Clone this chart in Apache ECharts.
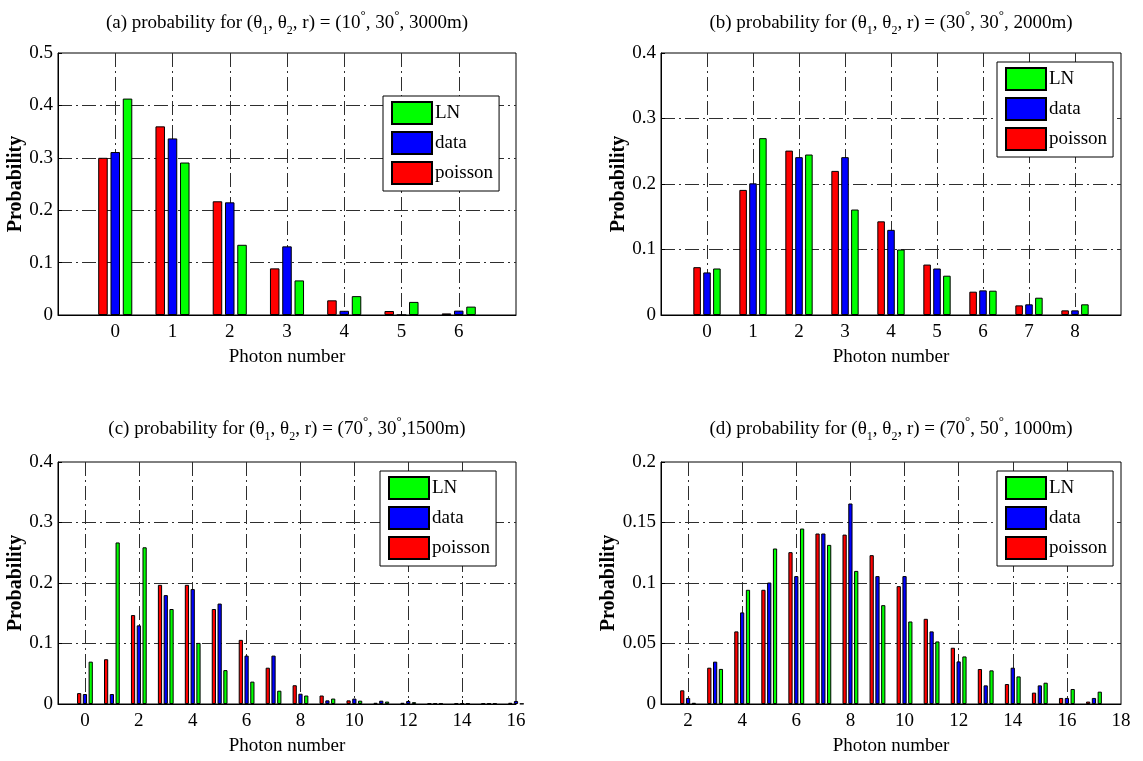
<!DOCTYPE html>
<html>
<head>
<meta charset="utf-8">
<script src="https://cdn.jsdelivr.net/npm/echarts@6/dist/echarts.min.js"></script>
<style>html,body{margin:0;padding:0;background:#fff}#chart{width:1143px;height:761px}</style>
</head>
<body>
<div id="chart"></div>
<script>
// ---------- DATA ----------
const seriesNames = ['poisson', 'data', 'LN'];
const legendOrder = ['LN', 'data', 'poisson'];

// (a) (θ1, θ2, r) = (10°, 30°, 3000m)
const aPhotons = [0, 1, 2, 3, 4, 5, 6];
const aPoisson = [0.300, 0.360, 0.217, 0.089, 0.028, 0.0076, 0.003];
const aData    = [0.311, 0.337, 0.215, 0.131, 0.008, 0, 0.0083];
const aLN      = [0.413, 0.291, 0.134, 0.066, 0.036, 0.025, 0.016];
const aXTicks  = [0, 1, 2, 3, 4, 5, 6];

// (b) (30°, 30°, 2000m)
const bPhotons = [0, 1, 2, 3, 4, 5, 6, 7, 8];
const bPoisson = [0.073, 0.191, 0.251, 0.220, 0.143, 0.077, 0.0356, 0.0147, 0.0071];
const bData    = [0.065, 0.201, 0.241, 0.241, 0.130, 0.071, 0.0376, 0.0163, 0.0071];
const bLN      = [0.071, 0.270, 0.245, 0.161, 0.100, 0.060, 0.0371, 0.0264, 0.0163];
const bXTicks  = [0, 1, 2, 3, 4, 5, 6, 7, 8];

// (c) (70°, 30°, 1500m)
const cPhotons = [0, 1, 2, 3, 4, 5, 6, 7, 8, 9, 10, 11, 12, 13, 14, 15, 16];
const cPoisson = [0.018, 0.074, 0.147, 0.197, 0.197, 0.157, 0.106, 0.060, 0.031, 0.014, 0.006, 0.002, 0.002, 0.001, 0.001, 0.001, 0.002];
const cData    = [0.0165, 0.0165, 0.130, 0.180, 0.190, 0.166, 0.080, 0.080, 0.017, 0.006, 0.009, 0.0055, 0.005, 0.001, 0.001, 0.001, 0.005];
const cLN      = [0.070, 0.267, 0.259, 0.157, 0.101, 0.056, 0.037, 0.022, 0.014, 0.009, 0.0055, 0.004, 0.003, 0.001, 0.001, 0.001, 0.0005];
const cXTicks  = [0, 2, 4, 6, 8, 10, 12, 14, 16];

// (d) (70°, 50°, 1000m)
const dPhotons = [2, 3, 4, 5, 6, 7, 8, 9, 10, 11, 12, 13, 14, 15, 16, 17];
const dPoisson = [0.0113, 0.030, 0.060, 0.0944, 0.1255, 0.1409, 0.140, 0.123, 0.0974, 0.0704, 0.0465, 0.0289, 0.0165, 0.0094, 0.005, 0.002];
const dData    = [0.005, 0.035, 0.0757, 0.1004, 0.1057, 0.1409, 0.1657, 0.1057, 0.1057, 0.060, 0.0352, 0.0154, 0.030, 0.0154, 0.005, 0.005];
const dLN      = [0.001, 0.029, 0.0944, 0.1285, 0.145, 0.1315, 0.110, 0.0817, 0.0682, 0.0517, 0.0393, 0.0278, 0.0228, 0.0176, 0.0124, 0.0102];
const dXTicks  = [2, 4, 6, 8, 10, 12, 14, 16, 18];

// ---------- LAYOUT / STYLE ----------
const FONT = '"Liberation Serif", "Times New Roman", serif';
const COLORS = {poisson: '#ff0000', data: '#0000ff', LN: '#00ff00'};

const panels = [
  {tag:'a', photons:aPhotons, vals:{poisson:aPoisson, data:aData, LN:aLN}, xTicks:aXTicks, xMin:-1, xMax:7, yMax:0.5, yStep:0.1,
   t:['10','30','3000m', ', '], grid:{left:58, top:53, width:458, height:262}, legend:{left:383, top:96}, titlePos:[287, 22]},
  {tag:'b', photons:bPhotons, vals:{poisson:bPoisson, data:bData, LN:bLN}, xTicks:bXTicks, xMin:-1, xMax:9, yMax:0.4, yStep:0.1,
   t:['30','30','2000m', ', '], grid:{left:661, top:53, width:460, height:262}, legend:{left:997, top:62}, titlePos:[891, 22]},
  {tag:'c', photons:cPhotons, vals:{poisson:cPoisson, data:cData, LN:cLN}, xTicks:cXTicks, xMin:-1, xMax:16, yMax:0.4, yStep:0.1,
   t:['70','30','1500m', ','], grid:{left:58, top:462, width:458, height:242}, legend:{left:380, top:471}, titlePos:[287, 428]},
  {tag:'d', photons:dPhotons, vals:{poisson:dPoisson, data:dData, LN:dLN}, xTicks:dXTicks, xMin:1, xMax:18, yMax:0.2, yStep:0.05,
   t:['70','50','1000m', ', '], grid:{left:661, top:462, width:460, height:242}, legend:{left:997, top:471}, titlePos:[891, 428]}
];

const gridLine = {color: '#2e2e2e', width: 1, type: [14, 4, 2, 4]};

const option = {
  animation: false,
  backgroundColor: '#fff',
  grid: [], xAxis: [], yAxis: [], series: [], legend: [], graphic: []
};

panels.forEach((p, i) => {
  const cats = [];
  for (let v = p.xMin; v <= p.xMax; v++) cats.push(String(v));
  const isTick = v => p.xTicks.indexOf(Number(v)) >= 0;
  const isInnerTick = v => isTick(v) && Number(v) !== p.xMin && Number(v) !== p.xMax;
  const unit = p.grid.width / (p.xMax - p.xMin);
  const bw = 0.175 * unit - 0.5;
  const gapPct = Math.round((0.215 * unit / bw - 1) * 100) + '%';

  option.grid.push(Object.assign({show: true, borderColor: '#000', borderWidth: 1, backgroundColor: '#fff',
    containLabel: false, outerBoundsMode: 'none'}, p.grid));

  option.xAxis.push({
    type: 'category', gridIndex: i, data: cats, boundaryGap: false,
    name: 'Photon number', nameLocation: 'middle', nameGap: 33,
    nameTextStyle: {fontFamily: FONT, fontSize: 19, color: '#000'},
    axisLine: {show: true, lineStyle: {color: '#000', width: 1}},
    axisTick: {show: true, inside: true, length: 4, interval: (idx, v) => isInnerTick(v), lineStyle: {color: '#000'}},
    axisLabel: {show: true, interval: (idx, v) => isTick(v), fontFamily: FONT, fontSize: 19, color: '#000', margin: 8},
    splitLine: {show: true, interval: (idx, v) => isInnerTick(v), lineStyle: gridLine}
  });

  option.yAxis.push({
    type: 'value', gridIndex: i, min: 0, max: p.yMax, interval: p.yStep,
    name: 'Probability', nameLocation: 'middle', nameGap: 30, nameRotate: 90,
    nameTextStyle: {fontFamily: FONT, fontSize: 20, fontWeight: 'bold', color: '#000'},
    axisLine: {show: true, lineStyle: {color: '#000', width: 1}},
    axisTick: {show: true, inside: true, length: 4, lineStyle: {color: '#000'}},
    axisLabel: {fontFamily: FONT, fontSize: 19, color: '#000', margin: 5},
    splitLine: {show: true, showMinLine: false, showMaxLine: false, lineStyle: gridLine}
  });

  seriesNames.forEach(name => {
    const vals = p.vals[name];
    const data = cats.map(c => {
      const k = p.photons.indexOf(Number(c));
      return k >= 0 ? vals[k] : null;
    });
    option.series.push({
      type: 'bar', name: name, xAxisIndex: i, yAxisIndex: i, data: data,
      barWidth: bw, barGap: gapPct,
      itemStyle: {color: COLORS[name], borderColor: '#000', borderWidth: 1},
      emphasis: {disabled: true}
    });
  });

  option.legend.push({
    orient: 'vertical', left: p.legend.left, top: p.legend.top,
    data: legendOrder, selectedMode: false, icon: 'rect',
    itemWidth: 40, itemHeight: 22, itemGap: 6,
    padding: [5, 6, 6, 8],
    borderColor: '#000', borderWidth: 1, backgroundColor: '#fff',
    textStyle: {fontFamily: FONT, fontSize: 19, color: '#000', lineHeight: 22, padding: [0, 0, 0, -2]}
  });

  option.graphic.push({
    type: 'text', x: p.titlePos[0], y: p.titlePos[1] + 1, silent: true,
    style: {
      text: '(' + p.tag + ') probability for (θ{s|1}, θ{s|2}, r) = (' + p.t[0] + '{u|°}, ' + p.t[1] + '{u|°}' + p.t[3] + p.t[2] + ')',
      fontFamily: FONT, fontSize: 19, fill: '#000', align: 'center', verticalAlign: 'middle', lineHeight: 28,
      rich: {
        s: {fontFamily: FONT, fontSize: 12, lineHeight: 12, verticalAlign: 'bottom', fill: '#000'},
        u: {fontFamily: FONT, fontSize: 13, lineHeight: 13, verticalAlign: 'top', fill: '#000'}
      }
    }
  });
});

const chart = echarts.init(document.getElementById('chart'), null, {renderer: 'canvas'});
chart.setOption(option);
</script>
</body>
</html>
